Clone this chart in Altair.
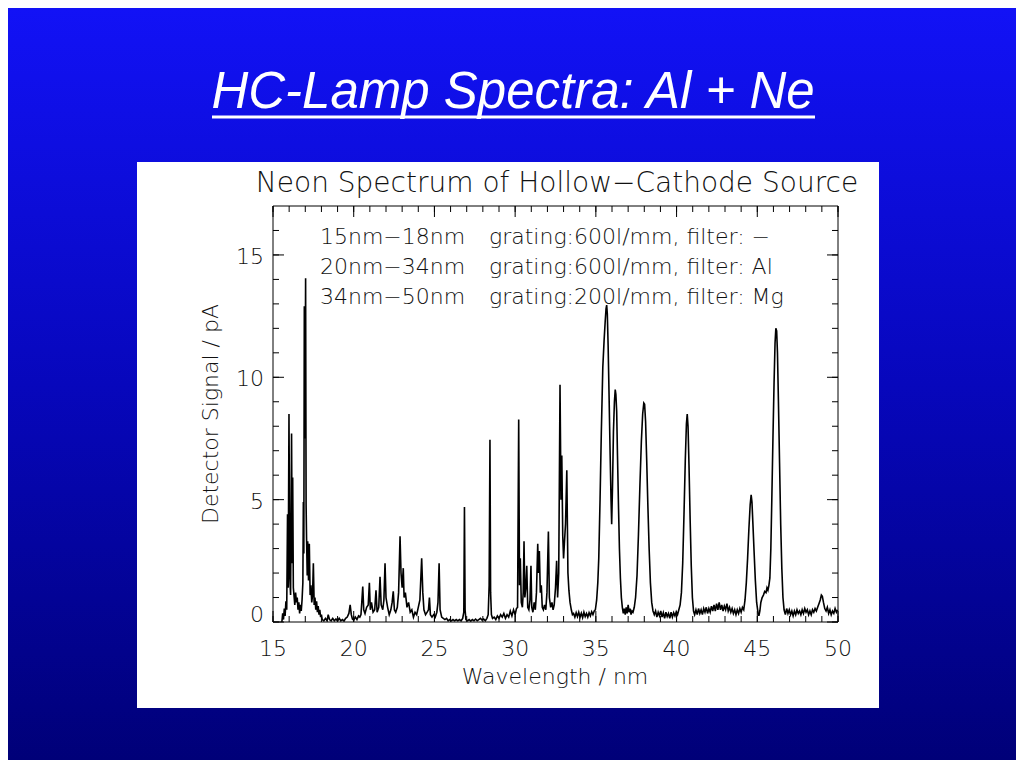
import altair as alt
import pandas as pd

# ---------------- spectrum trace (wavelength nm, signal pA) ----------------
seg_15_18 = [(15.55, 0.0), (15.6, 0.35), (15.65, 0.1), (15.7, 0.55), (15.75, 0.25), (15.8, 0.85), (15.85, 0.5),
             (15.9, 4.4), (15.94, 1.4), (15.99, 8.5), (16.04, 1.8), (16.09, 1.1), (16.15, 7.7), (16.19, 2.4),
             (16.22, 5.9), (16.26, 1.4), (16.3, 1.1), (16.35, 0.7), (16.4, 1.2), (16.45, 0.8), (16.5, 1.0),
             (16.55, 0.5), (16.6, 0.8), (16.65, 0.35), (16.7, 0.7), (16.75, 0.45), (16.8, 0.9), (16.85, 1.6),
             (16.88, 4.9), (16.91, 2.8), (16.94, 12.9), (16.98, 7.5), (17.02, 14.05), (17.05, 4.8), (17.08, 3.4),
             (17.12, 1.9), (17.15, 3.3), (17.2, 1.7), (17.25, 3.2), (17.3, 1.1), (17.35, 1.5), (17.4, 0.8),
             (17.45, 1.1), (17.5, 2.4), (17.55, 0.7), (17.6, 1.0), (17.65, 0.5), (17.7, 0.85), (17.75, 0.4),
             (17.8, 0.65), (17.85, 0.3), (17.9, 0.5), (17.95, 0.2), (18.0, 0.3), (18.05, 0.1)]
seg_18_20 = [(18.15, 0.05), (18.25, 0.15), (18.35, 0.05), (18.42, 0.3), (18.5, 0.1), (18.6, 0.05), (18.7, 0.15),
             (18.8, 0.05), (18.9, 0.12), (19.0, 0.04), (19.1, 0.15), (19.2, 0.05), (19.3, 0.1), (19.4, 0.04),
             (19.5, 0.15), (19.6, 0.2), (19.7, 0.35), (19.78, 0.7), (19.85, 0.3), (19.92, 0.12), (20.0, 0.08),
             (20.1, 0.2), (20.2, 0.1), (20.3, 0.25), (20.38, 0.2)]
seg_20_27 = [(20.45, 0.3), (20.5, 0.8), (20.56, 1.45), (20.62, 0.5), (20.7, 0.35), (20.8, 0.6), (20.9, 0.7),
             (20.97, 1.6), (21.03, 0.5), (21.1, 0.8), (21.2, 0.4), (21.3, 0.5), (21.38, 1.3), (21.45, 0.4),
             (21.55, 0.6), (21.63, 1.85), (21.7, 0.7), (21.8, 0.5), (21.87, 0.9), (21.94, 2.4), (22.0, 1.0),
             (22.1, 0.6), (22.2, 0.3), (22.3, 0.5), (22.38, 0.8), (22.45, 1.25), (22.52, 0.5), (22.6, 0.4),
             (22.7, 0.6), (22.78, 1.2), (22.87, 3.5), (22.93, 2.0), (23.0, 1.4), (23.07, 2.2), (23.12, 1.0),
             (23.2, 1.2), (23.3, 0.6), (23.4, 0.8), (23.5, 0.4), (23.6, 0.5), (23.7, 0.2), (23.8, 0.4),
             (23.9, 0.3), (24.0, 0.6), (24.1, 0.9), (24.21, 2.6), (24.28, 1.2), (24.35, 0.5), (24.45, 0.3),
             (24.55, 0.4), (24.63, 0.5), (24.69, 1.0), (24.75, 0.3), (24.85, 0.2), (24.95, 0.3), (25.05, 0.2),
             (25.15, 0.4), (25.22, 0.8), (25.29, 2.4), (25.35, 0.5), (25.45, 0.2), (25.55, 0.15), (25.65, 0.1),
             (25.75, 0.15), (25.85, 0.05), (25.95, 0.1), (26.05, 0.05), (26.15, 0.1), (26.25, 0.05),
             (26.35, 0.1), (26.45, 0.05), (26.55, 0.1), (26.65, 0.05), (26.75, 0.15), (26.82, 0.4),
             (26.86, 4.7), (26.9, 0.5)]
seg_27_30 = [(26.95, 0.1), (27.05, 0.05), (27.15, 0.1), (27.25, 0.04), (27.35, 0.1), (27.45, 0.05),
             (27.55, 0.12), (27.65, 0.05), (27.75, 0.1), (27.85, 0.15), (27.95, 0.08), (28.05, 0.12),
             (28.15, 0.05), (28.25, 0.15), (28.33, 0.3), (28.39, 1.5), (28.44, 7.45), (28.48, 1.2),
             (28.53, 0.3), (28.6, 0.15), (28.7, 0.2), (28.8, 0.1), (28.9, 0.25), (29.0, 0.15), (29.1, 0.3),
             (29.2, 0.2), (29.3, 0.35), (29.4, 0.15), (29.5, 0.3), (29.6, 0.2), (29.7, 0.45), (29.8, 0.25),
             (29.9, 0.5), (30.0, 0.3), (30.08, 0.55)]
seg_30_34 = [(30.15, 0.6), (30.22, 8.27), (30.27, 1.5), (30.32, 2.6), (30.38, 0.8), (30.45, 0.6), (30.5, 1.2),
             (30.55, 3.3), (30.6, 1.0), (30.66, 1.4), (30.72, 2.3), (30.78, 0.6), (30.85, 0.5), (30.92, 0.9),
             (30.98, 2.3), (31.03, 0.6), (31.1, 0.4), (31.18, 0.8), (31.25, 0.5), (31.32, 1.2), (31.4, 3.2),
             (31.44, 2.0), (31.5, 2.9), (31.56, 1.2), (31.62, 1.5), (31.68, 0.6), (31.75, 0.5), (31.82, 0.7),
             (31.9, 0.5), (31.97, 1.2), (32.06, 3.7), (32.12, 1.0), (32.2, 0.6), (32.28, 0.8), (32.35, 0.5),
             (32.42, 0.7), (32.5, 1.4), (32.57, 2.5), (32.63, 1.0), (32.7, 2.0), (32.78, 9.7), (32.84, 5.0),
             (32.89, 6.8), (32.95, 3.5), (33.0, 2.6), (33.05, 3.2), (33.12, 4.0), (33.2, 6.2), (33.27, 2.0),
             (33.33, 1.3), (33.4, 0.8), (33.48, 0.5), (33.55, 0.3)]
seg_34_37 = [(33.62, 0.35), (33.7, 0.2), (33.78, 0.38), (33.86, 0.22), (33.94, 0.4), (34.02, 0.2), (34.1, 0.36),
             (34.18, 0.18), (34.26, 0.4), (34.34, 0.22), (34.42, 0.35), (34.5, 0.2), (34.58, 0.38),
             (34.66, 0.25), (34.74, 0.42), (34.82, 0.3), (34.9, 0.45), (34.97, 0.5), (35.05, 0.9), (35.12, 1.6),
             (35.18, 2.6), (35.26, 5.0), (35.34, 7.8), (35.43, 10.4), (35.51, 11.5), (35.58, 12.3),
             (35.63, 12.8), (35.67, 12.95), (35.71, 12.6), (35.76, 11.3), (35.82, 9.2), (35.88, 7.0),
             (35.94, 5.0), (35.98, 4.0), (36.03, 5.5), (36.09, 7.8), (36.15, 9.0), (36.2, 9.5), (36.24, 9.3),
             (36.29, 8.6), (36.34, 6.8), (36.4, 4.8), (36.46, 3.0), (36.52, 1.8), (36.58, 1.0), (36.64, 0.6),
             (36.7, 0.35), (36.76, 0.55), (36.82, 0.3), (36.88, 0.6), (36.94, 0.35), (37.0, 0.7), (37.06, 0.4),
             (37.12, 0.55), (37.18, 0.3), (37.24, 0.45)]
seg_37_41 = [(37.3, 0.4), (37.38, 0.6), (37.46, 1.0), (37.55, 1.9), (37.64, 3.6), (37.73, 5.6), (37.82, 7.4),
             (37.9, 8.5), (37.97, 8.95), (38.02, 8.9), (38.08, 8.2), (38.15, 6.6), (38.22, 4.8), (38.3, 3.0),
             (38.38, 1.6), (38.46, 0.8), (38.54, 0.45), (38.62, 0.3), (38.7, 0.45), (38.78, 0.2), (38.86, 0.4),
             (38.94, 0.25), (39.02, 0.45), (39.1, 0.2), (39.18, 0.38), (39.26, 0.15), (39.34, 0.4),
             (39.42, 0.22), (39.5, 0.35), (39.58, 0.15), (39.66, 0.4), (39.74, 0.2), (39.82, 0.38),
             (39.9, 0.25), (39.98, 0.42), (40.06, 0.3), (40.14, 0.5), (40.22, 0.7), (40.3, 1.2), (40.38, 2.4),
             (40.46, 4.4), (40.54, 6.6), (40.61, 8.1), (40.66, 8.5), (40.71, 8.0), (40.77, 6.4), (40.84, 4.2),
             (40.91, 2.3), (40.98, 1.0), (41.05, 0.45)]
seg_41_47 = [(41.12, 0.3), (41.2, 0.5), (41.28, 0.3), (41.36, 0.55), (41.44, 0.35), (41.52, 0.5), (41.6, 0.3),
             (41.68, 0.55), (41.76, 0.4), (41.84, 0.6), (41.92, 0.35), (42.0, 0.55), (42.08, 0.4),
             (42.16, 0.65), (42.24, 0.45), (42.32, 0.7), (42.4, 0.45), (42.48, 0.75), (42.56, 0.5),
             (42.64, 0.8), (42.72, 0.5), (42.8, 0.7), (42.88, 0.45), (42.96, 0.65), (43.04, 0.5), (43.12, 0.75),
             (43.2, 0.45), (43.28, 0.6), (43.36, 0.4), (43.44, 0.55), (43.52, 0.35), (43.6, 0.5), (43.68, 0.3),
             (43.76, 0.5), (43.84, 0.35), (43.92, 0.55), (44.0, 0.4), (44.08, 0.6), (44.16, 0.5), (44.24, 0.9),
             (44.32, 1.6), (44.4, 2.6), (44.48, 3.8), (44.56, 4.8), (44.62, 5.2), (44.67, 4.9), (44.73, 4.0),
             (44.8, 2.9), (44.88, 1.7), (44.96, 0.8), (45.04, 0.4), (45.1, 0.25), (45.16, 0.45), (45.22, 0.8),
             (45.3, 1.0), (45.38, 1.1), (45.46, 1.25), (45.54, 1.2), (45.6, 1.4), (45.66, 1.3), (45.72, 1.5),
             (45.78, 1.8), (45.84, 3.0), (45.9, 5.0), (45.97, 7.5), (46.04, 9.8), (46.1, 11.4), (46.15, 12.0),
             (46.2, 11.9), (46.25, 11.0), (46.31, 9.0), (46.38, 6.5), (46.45, 4.0), (46.52, 2.2), (46.59, 1.0),
             (46.66, 0.5)]
seg_47_50 = [(46.74, 0.3), (46.82, 0.55), (46.9, 0.35), (46.98, 0.5), (47.06, 0.3), (47.14, 0.45),
             (47.22, 0.25), (47.3, 0.45), (47.38, 0.3), (47.46, 0.5), (47.54, 0.35), (47.62, 0.45), (47.7, 0.3),
             (47.78, 0.5), (47.86, 0.35), (47.94, 0.55), (48.02, 0.4), (48.1, 0.5), (48.18, 0.3), (48.26, 0.45),
             (48.34, 0.3), (48.42, 0.5), (48.5, 0.4), (48.58, 0.55), (48.66, 0.45), (48.74, 0.6), (48.82, 0.75),
             (48.9, 0.9), (48.97, 1.1), (49.03, 1.05), (49.1, 0.8), (49.18, 0.55), (49.26, 0.45), (49.34, 0.6),
             (49.42, 0.35), (49.5, 0.5), (49.58, 0.3), (49.66, 0.45), (49.74, 0.35), (49.82, 0.55), (49.9, 0.4),
             (49.97, 0.5)]

X_MAJOR = [15, 20, 25, 30, 35, 40, 45, 50]
X_MINOR = list(range(15, 51))
Y_MAJOR = [0, 5, 10, 15]
Y_MINOR = list(range(0, 17))

SLIDE_TITLE = "HC-Lamp Spectra: Al + Ne"
PLOT_TITLE = "Neon Spectrum of Hollow\u2212Cathode Source"
LEG_RANGES = ["15nm\u221218nm", "20nm\u221234nm", "34nm\u221250nm"]
LEG_SETUP = ["grating:600l/mm, filter: \u2212", "grating:600l/mm, filter: Al", "grating:200l/mm, filter: Mg"]
X_TITLE = "Wavelength / nm"
Y_TITLE = "Detector Signal / pA"

# ---------------- layout ----------------
W, H = 565, 416
PAD = {"left": 265, "top": 198, "right": 178, "bottom": 138}
FONT = "DejaVu Sans"
INK = "#111111"
WEIGHT = 200
LEG_ROW_Y = [31, 61, 91]

spec = pd.DataFrame(seg_15_18 + seg_18_20 + seg_20_27 + seg_27_30 + seg_30_34 +
                    seg_34_37 + seg_37_41 + seg_41_47 + seg_47_50, columns=["wavelength", "signal"])
one = pd.DataFrame({"k": [0]})

xs = alt.Scale(domain=[15, 50], nice=False, zero=False)
ys = alt.Scale(domain=[0, 17], nice=False, zero=False)

bg = alt.Chart(one).mark_rect(
    fill=alt.LinearGradient(gradient="linear",
                            stops=[alt.GradientStop(color="#1212f6", offset=0),
                                   alt.GradientStop(color="#0707bc", offset=0.5),
                                   alt.GradientStop(color="#000078", offset=1)],
                            x1=0, x2=0, y1=0, y2=1)
).encode(x=alt.value(-PAD["left"]), x2=alt.value(W + PAD["right"]),
         y=alt.value(-PAD["top"]), y2=alt.value(H + PAD["bottom"]))

panel = alt.Chart(one).mark_rect(fill="white").encode(
    x=alt.value(-136), x2=alt.value(606), y=alt.value(-44), y2=alt.value(502))

slide_title = alt.Chart(one).mark_text(
    text=SLIDE_TITLE, font="Liberation Sans", fontSize=51, fontStyle="italic",
    color="white", align="center", baseline="alphabetic"
).encode(x=alt.value(240), y=alt.value(-98))

underline = alt.Chart(one).mark_rule(color="white", strokeWidth=3).encode(
    x=alt.value(-61), x2=alt.value(542), y=alt.value(-89))

plot_title = alt.Chart(one).mark_text(
    text=PLOT_TITLE, font=FONT, fontSize=28, fontWeight=WEIGHT, color=INK,
    align="center", baseline="middle"
).encode(x=alt.value(284), y=alt.value(-22))

legend_layers = []
for rng, setup, ry in zip(LEG_RANGES, LEG_SETUP, LEG_ROW_Y):
    legend_layers.append(alt.Chart(one).mark_text(
        text=rng, font=FONT, fontSize=22, fontWeight=WEIGHT, color=INK, align="left", baseline="middle"
    ).encode(x=alt.value(47), y=alt.value(ry)))
    legend_layers.append(alt.Chart(one).mark_text(
        text=setup, font=FONT, fontSize=22, fontWeight=WEIGHT, color=INK, align="left", baseline="middle"
    ).encode(x=alt.value(216), y=alt.value(ry)))

x_title = alt.Chart(one).mark_text(text=X_TITLE, font=FONT, fontSize=22, fontWeight=WEIGHT, color=INK,
                                   align="center", baseline="middle").encode(
    x=alt.value(282), y=alt.value(471))
y_title = alt.Chart(one).mark_text(text=Y_TITLE, font=FONT, fontSize=22, fontWeight=WEIGHT, color=INK,
                                   align="center", baseline="middle", angle=270).encode(
    x=alt.value(-62), y=alt.value(208))

frame = alt.Chart(one).mark_rect(fill=None, stroke="black", strokeWidth=1).encode(
    x=alt.value(0), x2=alt.value(W), y=alt.value(0), y2=alt.value(H))


def xticks(vals, length):
    d = pd.DataFrame({"wavelength": vals})
    base = alt.Chart(d).mark_rule(color="black", strokeWidth=1)
    xe = alt.X("wavelength:Q", scale=xs, axis=None)
    return (base.encode(x=xe, y=alt.value(H), y2=alt.value(H - length)) +
            base.encode(x=xe, y=alt.value(0), y2=alt.value(length)))


def yticks(vals, length):
    d = pd.DataFrame({"signal": vals})
    base = alt.Chart(d).mark_rule(color="black", strokeWidth=1)
    ye = alt.Y("signal:Q", scale=ys, axis=None)
    return (base.encode(y=ye, x=alt.value(0), x2=alt.value(length)) +
            base.encode(y=ye, x=alt.value(W), x2=alt.value(W - length)))


# tick labels, placed through the scales
x_labels = alt.Chart(pd.DataFrame({"wavelength": X_MAJOR})).mark_text(
    font=FONT, fontSize=22, fontWeight=WEIGHT, color=INK, align="center", baseline="middle"
).encode(x=alt.X("wavelength:Q", scale=xs, axis=None), y=alt.value(H + 27), text="wavelength:Q")

y_labels = alt.Chart(pd.DataFrame({"signal": Y_MAJOR[1:]})).mark_text(
    font=FONT, fontSize=22, fontWeight=WEIGHT, color=INK, align="right", baseline="middle", dy=2
).encode(y=alt.Y("signal:Q", scale=ys, axis=None), x=alt.value(-9), text="signal:Q")
y_label0 = alt.Chart(pd.DataFrame({"signal": Y_MAJOR[:1]})).mark_text(
    font=FONT, fontSize=22, fontWeight=WEIGHT, color=INK, align="right", baseline="middle", dy=-7
).encode(y=alt.Y("signal:Q", scale=ys, axis=None), x=alt.value(-9), text="signal:Q")

line = alt.Chart(spec).mark_line(color="black", strokeWidth=1.6, clip=True).encode(
    x=alt.X("wavelength:Q", scale=xs, axis=None),
    y=alt.Y("signal:Q", scale=ys, axis=None),
)

chart = alt.layer(
    bg, panel, slide_title, underline, plot_title, *legend_layers, x_title, y_title,
    xticks(X_MINOR, 6), xticks(X_MAJOR, 11), yticks(Y_MINOR, 6), yticks(Y_MAJOR, 11),
    x_labels, y_labels, y_label0, line, frame
).properties(
    width=W, height=H, padding=PAD, autosize="none", background="#0a0ad0"
).configure_view(stroke=None)

chart.save("out.html", embed_options={"renderer": "svg", "actions": False})
